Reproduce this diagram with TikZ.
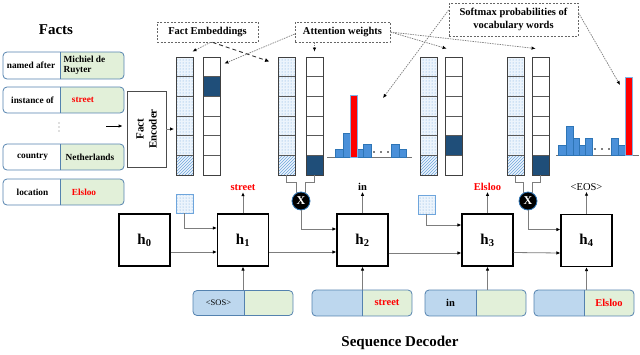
\documentclass[tikz,border=0pt]{standalone}
\usepackage{fontspec}
\setmainfont{Liberation Serif}
\usetikzlibrary{arrows.meta,patterns,calc}
\definecolor{pillb}{RGB}{84,130,175}
\definecolor{pgreen}{RGB}{226,240,217}
\definecolor{pblue}{RGB}{189,215,238}
\definecolor{dblue}{RGB}{31,78,121}
\definecolor{barblue}{RGB}{74,144,217}
\definecolor{barline}{RGB}{46,117,182}
\definecolor{dotblue}{RGB}{110,165,220}
\definecolor{lightfill}{RGB}{236,244,252}
\definecolor{arrgray}{RGB}{125,125,125}
\definecolor{tred}{RGB}{255,0,0}

\tikzset{
  pill/.style n args={3}{draw=pillb, line width=0.8pt, rounded corners=4pt, inner sep=0pt,
    path picture={
      \fill[#1, sharp corners] (path picture bounding box.south west) rectangle ([xshift=#3]path picture bounding box.north west);
      \fill[#2, sharp corners] ([xshift=#3]path picture bounding box.south west) rectangle (path picture bounding box.north east);
      \draw[pillb, line width=0.8pt, sharp corners] ([xshift=#3]path picture bounding box.south west) -- ([xshift=#3]path picture bounding box.north west);
    }},
  ftxt/.style={inner sep=0.5pt, font=\bfseries\fontsize{9.3}{10}\selectfont},
  big/.style={inner sep=1pt, font=\bfseries\fontsize{10.5}{12}\selectfont},
  colframe/.style={draw=black!75, line width=0.9pt, minimum width=17pt, minimum height=118pt, inner sep=0pt},
  cellline/.style={draw=black!65, line width=0.7pt},
  hbox/.style={draw=black, line width=1.1pt, minimum width=51pt, minimum height=52pt, inner sep=0pt,
    font=\bfseries\fontsize{15}{15}\selectfont},
  sqbox/.style={draw=dotblue, line width=0.7pt, minimum width=17pt, minimum height=19pt, inner sep=0pt,
    preaction={fill=lightfill}, pattern=dots, pattern color=dotblue},
  xnode/.style={circle, fill=black, draw=barline, line width=0.8pt, minimum size=18pt, inner sep=0pt,
    text=white, font=\bfseries\fontsize{12}{12}\selectfont},
  lbl/.style={draw=black!60, dash pattern=on 2pt off 1.5pt, line width=0.7pt, inner sep=0pt, align=center,
    font=\bfseries\fontsize{10.5}{12.5}\selectfont},
  arr/.style={draw=arrgray, line width=0.8pt, -{Latex[length=4pt,width=3.5pt,color=black]}},
  conn/.style={draw=arrgray, line width=0.8pt},
  dotarr/.style={draw=arrgray, line width=0.7pt, dash pattern=on 1.5pt off 1pt, -{Latex[length=4pt,width=3.5pt,color=black]}},
  dasharr/.style={draw=black!80, line width=0.9pt, dash pattern=on 4pt off 3pt, -{Latex[length=4.5pt,width=4pt,color=black]}},
  bar/.style={fill=barblue, draw=barline, line width=0.5pt},
  redbar/.style={fill=tred, draw=barblue!70, line width=0.6pt},
  basel/.style={draw=black!55, line width=0.7pt},
}

\newcommand\factcol[2]{%
  \foreach \i in {0,...,4} {\path[preaction={fill=lightfill}, pattern=dots, pattern color=dotblue] (#2,{57+\i*19.6667}) rectangle ++(17,19.6667);}
  \path[preaction={fill=lightfill}, pattern=north east lines, pattern color=dotblue] (#2,{57+5*19.6667}) rectangle ++(17,19.6667);
  \foreach \i in {1,...,5} {\draw[cellline] (#2,{57+\i*19.6667}) -- ++(17,0);}
  \node[colframe] (#1) at ({#2+8.5},116) {};
}
\newcommand\attcol[3]{%
  \fill[dblue] (#2,{57+(#3-1)*19.6667}) rectangle ++(17,19.6667);
  \foreach \i in {1,...,5} {\draw[cellline] (#2,{57+\i*19.6667}) -- ++(17,0);}
  \node[colframe] (#1) at ({#2+8.5},116) {};
}

\begin{document}
\begin{tikzpicture}[x=1pt,y=-1pt]
\useasboundingbox (0,0) rectangle (640,354);

% Titles
\node[font=\bfseries\fontsize{15}{15}\selectfont] (tfacts) at (56,30) {Facts};
\node[font=\bfseries\fontsize{15}{15}\selectfont] (tdec) at (400,343) {Sequence Decoder};

% Fact rows
\node[pill={white}{pgreen}{57pt}, minimum width=121pt, minimum height=27pt] (f1) at (63.5,65.5) {};
\node[ftxt] (f1a) at (31,65.5) {named after};
\node[ftxt, align=left, anchor=west] (f1b) at (63,65.5) {Michiel de\\Ruyter};
\node[pill={white}{pgreen}{57pt}, minimum width=121pt, minimum height=26pt] (f2) at (63.5,100) {};
\node[ftxt] (f2a) at (32.5,100) {instance of};
\node[ftxt, text=tred] (f2b) at (83,100) {street};
\foreach \y in {123,127,131} {\fill[black!55] (59,\y) circle (0.6);}
\node[pill={white}{pgreen}{57pt}, minimum width=121pt, minimum height=26pt] (f3) at (63.5,157) {};
\node[ftxt] (f3a) at (32.5,157) {country};
\node[ftxt] (f3b) at (90,157) {Netherlands};
\node[pill={white}{pgreen}{57pt}, minimum width=121pt, minimum height=26pt] (f4) at (63.5,192) {};
\node[ftxt] (f4a) at (32.5,192) {location};
\node[ftxt, text=tred] (f4b) at (84,192) {Elsloo};

% Fact encoder
\node[draw=black!70, line width=0.8pt, minimum width=39pt, minimum height=76pt, inner sep=0pt] (enc) at (146.5,129) {};
\node[rotate=90, align=center, font=\bfseries\fontsize{11}{13}\selectfont] (enct) at (enc.center) {Fact\\Encoder};
\coordinate (fin) at (106,126);
\draw[arr, draw=black] (fin) -- (fin -| enc.west) [shorten >=4pt];

% Columns
\factcol{c1}{176}
\attcol{c2}{203}{2}
\factcol{c3}{278}
\attcol{c4}{306}{6}
\factcol{c5}{420}
\attcol{c6}{445}{5}
\factcol{c7}{507}
\attcol{c8}{532}{6}

\draw[arr] (enc.east) -- (c1.west |- enc.east) [shorten >=1.5pt];

% Histograms
\draw[basel] (327,157) -- (412,157);
\foreach \a/\b/\t in {335/343/149, 343/350/133, 357/363/149, 363/371/144, 391/399/144, 399/406/149}
  {\filldraw[bar] (\a,157) rectangle (\b,\t);}
\filldraw[redbar] (350,157) rectangle (357,95);
\foreach \x in {374,381,388} {\fill (\x,152) circle (0.9);}
\coordinate (hp1) at (383,98);

\draw[basel] (556,155) -- (639,155);
\foreach \a/\b/\t in {558/566/145, 566/573/126, 573/579/138, 579/585/145, 585/592/138, 611/618/138, 618/625/145}
  {\filldraw[bar] (\a,155) rectangle (\b,\t);}
\filldraw[redbar] (625,155) rectangle (632,77);
\foreach \x in {595,602,609} {\fill (\x,149) circle (0.9);}
\coordinate (hp2) at (620,85);

% Label boxes
\node[lbl, minimum width=101pt, minimum height=20pt] (fe) at (207.5,32) {Fact Embeddings};
\node[lbl, minimum width=95pt, minimum height=20pt] (aw) at (342.5,32) {Attention weights};
\node[lbl, minimum width=129pt, minimum height=33pt] (sm) at (513.5,19.5) {Softmax probabilities of\\vocabulary words};

\draw[dotarr] ([xshift=3pt]fe.south) -- ([xshift=-1pt,yshift=5pt]c1.north east);
\draw[dasharr] ([xshift=5pt]fe.south) -- ([xshift=-8pt,yshift=-5pt]c3.north west);
\draw[dotarr] ([yshift=-2pt]aw.west) -- ([xshift=4pt,yshift=-7pt]c2.north east);
\draw[dotarr] (aw.south -| c4.north) -- ([yshift=5pt]c4.north);
\draw[dotarr] (aw.east) -- ([xshift=2pt,yshift=8pt]c6.north west);
\draw[dotarr] (aw.east) -- ([xshift=4pt,yshift=8pt]c8.north west);
\draw[dotarr] ([yshift=9.5pt]sm.west) -- (hp1);
\draw[dotarr] ([yshift=7pt]sm.east) -- (hp2);

% Decoder boxes
\node[hbox] (h0) at (144.5,240) {h\textsubscript{0}};
\node[hbox] (h1) at (243,240) {h\textsubscript{1}};
\node[hbox] (h2) at (362.5,240) {h\textsubscript{2}};
\node[hbox] (h3) at (487.5,240) {h\textsubscript{3}};
\node[hbox] (h4) at (586.5,240.5) {h\textsubscript{4}};

% small embedding squares
\node[sqbox] (sq1) at (184.5,203.5) {};
\node[sqbox] (sq2) at (426.5,204.5) {};

% multiply circles
\node[xnode] (x1) at (301,201) {X};
\node[xnode] (x2) at (528,201) {X};
\draw[conn] (c3.south) -- ++(0,7) -| (x1.116);
\draw[conn] (c4.south) -- ++(0,7) -| (x1.64);
\draw[conn] (c7.south) -- ++(0,7) -| (x2.116);
\draw[conn] (c8.south) -- ++(0,7) -| (x2.64);

\draw[arr] (x1.south) |- ([yshift=11pt]h2.west);
\draw[arr] (x2.south) |- ([yshift=11pt]h4.west);
\draw[arr] (sq1.south) |- ([yshift=12pt]h1.west);
\draw[arr] (sq2.south) |- ([yshift=15pt]h3.west);

\draw[arr] ([yshift=-12pt]h0.east) -- ([yshift=-12pt]h1.west);
\draw[arr] ([yshift=-12pt]h1.east) -- ([yshift=-12pt]h2.west);
\draw[arr] ([yshift=-13pt]h2.east) -- ([yshift=-13pt]h3.west);
\draw[arr] ([yshift=-12.5pt]h3.east) -- ([yshift=-12.5pt]h4.west);

% outputs
\node[big, text=tred] (o1) at (243,188) {street};
\node[big] (o2) at (362.5,187) {in};
\node[big, text=tred] (o3) at (487.5,187) {Elsloo};
\node[big, font=\fontsize{10.5}{12}\selectfont] (o4) at (586.5,187) {<EOS>};
\draw[arr] (h1.north) -- (o1.south);
\draw[arr] (h2.north) -- (o2.south);
\draw[arr] (h3.north) -- (o3.south);
\draw[arr] (h4.north) -- (o4.south);

% input pills
\node[pill={pblue}{pgreen}{51pt}, minimum width=100pt, minimum height=25pt] (p1) at (243,303) {};
\node[inner sep=0pt, font=\fontsize{8.5}{10}\selectfont] (p1t) at (218.5,303) {<SOS>};
\node[pill={pblue}{pgreen}{50pt}, minimum width=100pt, minimum height=26pt] (p2) at (362,303) {};
\node[big, text=tred] (p2t) at (387,303) {street};
\node[pill={pblue}{pgreen}{51pt}, minimum width=101pt, minimum height=26pt] (p3) at (475.5,303) {};
\node[big] (p3t) at (450.5,303) {in};
\node[pill={pblue}{pgreen}{50pt}, minimum width=100pt, minimum height=26pt] (p4) at (584,303) {};
\node[big, text=tred] (p4t) at (609,303) {Elsloo};

\draw[arr] (p1.north -| h1.south) -- (h1.south);
\draw[arr] (p2.north -| h2.south) -- (h2.south);
\draw[arr] (p3.north -| h3.south) -- (h3.south);
\draw[arr] (p4.north -| h4.south) -- (h4.south);
\end{tikzpicture}
\end{document}
